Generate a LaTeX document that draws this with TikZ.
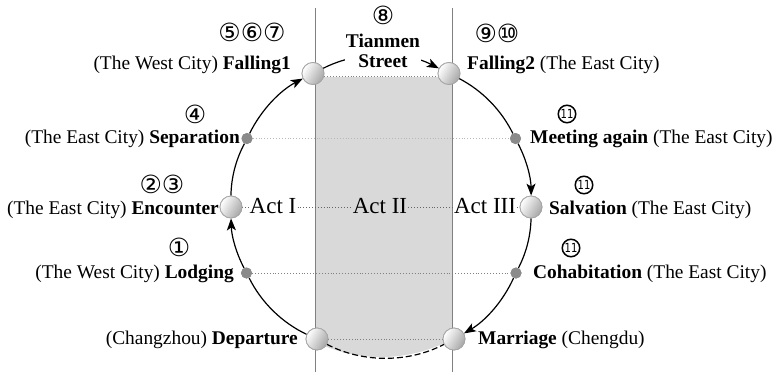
\documentclass[tikz,border=0pt]{standalone}
\usepackage{fontspec}
\usepackage{graphicx}
\setmainfont{Liberation Serif}
\newfontfamily\circfont{DejaVu Sans}
\usetikzlibrary{arrows.meta}
\definecolor{shadegray}{RGB}{217,217,217}
\definecolor{dotgray}{RGB}{138,138,138}
\definecolor{linegray}{RGB}{128,128,128}
\begin{document}
\begin{tikzpicture}[x=1pt,y=1pt,
  font=\fontsize{19.4}{22}\selectfont,
  bignode/.style={circle,minimum size=22pt,inner sep=0pt,draw=gray!70,line width=0.8pt,
    left color=white,right color=gray!70,shading angle=60},
  smalldot/.style={circle,minimum size=11pt,inner sep=0pt,fill=dotgray},
  storyline/.style={line width=1.2pt,black,looseness=0.87},
  arr/.style={-{Stealth[length=12pt,width=9pt,inset=3pt]}},
  guide/.style={dotted,line width=0.9pt,color=#1},
  guide/.default=gray,
  circnum/.style={font=\circfont\fontsize{25}{25}\selectfont,inner sep=0pt},
  circeleven/.style={circle,draw,line width=1.5pt,minimum size=17.5pt,inner sep=0pt,
    font=\circfont\fontsize{12.5}{12.5}\selectfont},
  lbl/.style={inner sep=0pt},
  actlbl/.style={font=\fontsize{23}{26}\selectfont,inner sep=1pt,anchor=base},
]
\useasboundingbox (0,0) rectangle (776,-375);

% shaded strip
\begin{scope}
  \clip (381,-207) circle (150);
  \fill[shadegray] (315.5,-77) rectangle (452,-380);
\end{scope}
\draw[linegray,line width=0.9pt] (315.5,-8) -- (315.5,-372);
\draw[linegray,line width=0.9pt] (452,-8) -- (452,-372);

% nodes on the circle
\node[bignode] (f1) at (313,-73.5) {};
\node[bignode] (f2) at (449,-73.5) {};
\node[smalldot] (sep) at (247,-138.5) {};
\node[smalldot] (meet) at (515.5,-138.5) {};
\node[bignode] (enc) at (231,-207) {};
\node[bignode] (salv) at (531,-207) {};
\node[smalldot] (lod) at (246.5,-273) {};
\node[smalldot] (cohab) at (516,-273) {};
\node[bignode] (dep) at (317,-339) {};
\node[bignode] (marr) at (454,-339) {};

% act labels
\node[actlbl] (act1) at (273,-213) {Act I};
\node[actlbl] (act2) at (380,-213) {Act II};
\node[actlbl] (act3) at (485,-213) {Act III};

% dotted guide lines
\draw[guide=gray!55] (sep) -- (meet);
\draw[guide=gray] (lod) -- (cohab);
\draw[guide=gray!80!black] (enc) -- (act1.west |- enc);
\draw[guide=gray!80!black] (act1.east |- enc) -- (act2.west |- enc);
\draw[guide=gray!80!black] (act2.east |- enc) -- (act3.west |- enc);
\draw[guide=gray!80!black] (act3.east |- enc) -- (salv);
\draw[guide=gray] ([yshift=-3pt]f1.east) -- ([yshift=-3pt]f2.west);
\draw[guide=gray] (dep) -- (marr);

% story line
\draw[storyline] (dep) to[bend left=19] (lod);
\draw[storyline,arr] (lod) to[bend left=13] (enc);
\draw[storyline] (enc) to[bend left=13.5] (sep);
\draw[storyline,arr] (sep) to[bend left=18] (f1);
\draw[storyline,arr] (f1) to[bend left=27] (f2);
\draw[storyline] (f2) to[bend left=18] (meet);
\draw[storyline,arr] (meet) to[bend left=13.5] (salv);
\draw[storyline] (salv) to[bend left=13] (cohab);
\draw[storyline,arr] (cohab) to[bend left=17.5] (marr);
\draw[storyline,dashed,dash pattern=on 6pt off 3pt] (dep) to[bend right=28] (marr);

% redraw nodes on top
\foreach \p in {{313,-73.5},{449,-73.5},{231,-207},{531,-207},{317,-339},{454,-339}}
  \node[bignode] at (\p) {};
\foreach \p in {{247,-138.5},{515.5,-138.5},{246.5,-273},{516,-273}}
  \node[smalldot] at (\p) {};

% Tianmen Street
\node[lbl,fill=white,inner sep=0.5pt,align=center,font=\bfseries\fontsize{19.4}{20}\selectfont] (tian) at (383,-51) {Tianmen\\Street};

% labels
\node[lbl,anchor=base east] (lf1) at (291,-69) {(The West City) \textbf{Falling1}};
\node[lbl,anchor=base west] (lf2) at (467,-69) {\textbf{Falling2} (The East City)};
\node[lbl,anchor=base east] (lsep) at (240,-143) {(The East City) \textbf{Separation}};
\node[lbl,anchor=base west] (lmeet) at (530,-143) {\textbf{Meeting again} (The East City)};
\node[lbl,anchor=base east] (lenc) at (219,-214) {(The East City) \textbf{Encounter}};
\node[lbl,anchor=base west] (lsalv) at (549,-214) {\textbf{Salvation} (The East City)};
\node[lbl,anchor=base east] (llod) at (234,-278) {(The West City) \textbf{Lodging}};
\node[lbl,anchor=base west] (lcohab) at (533,-278) {\textbf{Cohabitation} (The East City)};
\node[lbl,anchor=base east] (ldep) at (298,-344) {(Changzhou) \textbf{Departure}};
\node[lbl,anchor=base west] (lmarr) at (478,-344) {\textbf{Marriage} (Chengdu)};

% circled numbers
\node[circnum] (n567) at (252,-32) {⑤⑥⑦};
\node[circnum] (n8) at (383,-15) {⑧};
\node[circnum] (n910) at (497,-33) {⑨⑩};
\node[circnum] (n4) at (195,-114) {④};
\node[circnum] (n23) at (162,-184) {②③};
\node[circnum] (n1) at (179,-247) {①};
\node[circeleven] (n11a) at (567,-114) {\scalebox{0.8}[1]{11}};
\node[circeleven] (n11b) at (584,-185) {\scalebox{0.8}[1]{11}};
\node[circeleven] (n11c) at (571,-248) {\scalebox{0.8}[1]{11}};
\end{tikzpicture}
\end{document}
